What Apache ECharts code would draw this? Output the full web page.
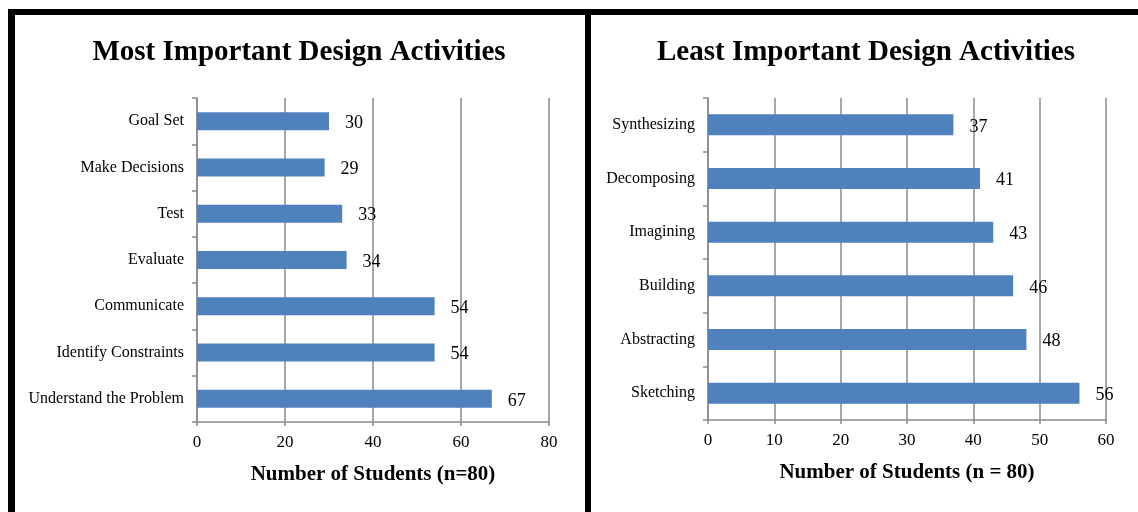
<!DOCTYPE html>
<html>
<head>
<meta charset="utf-8">
<script src="https://cdn.jsdelivr.net/npm/echarts@6/dist/echarts.min.js"></script>
<style>
html,body{margin:0;padding:0;background:#fff;}
#chart{width:1138px;height:512px;}
</style>
</head>
<body>
<div id="chart"></div>
<script>
// Data
const leftTitle = 'Most Important Design Activities';
const rightTitle = 'Least Important Design Activities';
const leftCategories = ['Understand the Problem', 'Identify Constraints', 'Communicate', 'Evaluate', 'Test', 'Make Decisions', 'Goal Set'];
const leftValues = [67, 54, 54, 34, 33, 29, 30];
const rightCategories = ['Sketching', 'Abstracting', 'Building', 'Imagining', 'Decomposing', 'Synthesizing'];
const rightValues = [56, 48, 46, 43, 41, 37];
const leftAxisName = 'Number of Students (n=80)';
const rightAxisName = 'Number of Students (n = 80)';

const FONT = '"Liberation Serif", "Times New Roman", serif';
const GRAY = '#8a8a8a';
const BAR = '#4F81BD';

function xAxisCfg(gridIndex, max, interval, name) {
  return {
    type: 'value', gridIndex: gridIndex, min: 0, max: max, interval: interval,
    name: name, nameLocation: 'middle', nameGap: 42,
    nameTextStyle: {fontFamily: FONT, fontWeight: 'bold', fontSize: 21, color: '#000'},
    axisLine: {show: true, lineStyle: {color: GRAY, width: 1.5}},
    axisTick: {show: true, length: 4, lineStyle: {color: GRAY, width: 1.5}},
    axisLabel: {fontFamily: FONT, fontSize: 17, color: '#000', margin: 12},
    splitLine: {show: true, lineStyle: {color: GRAY, width: 1.5}}
  };
}
function yAxisCfg(gridIndex, cats) {
  return {
    type: 'category', gridIndex: gridIndex, data: cats,
    axisLine: {show: true, lineStyle: {color: GRAY, width: 1.5}},
    axisTick: {show: true, length: 5, lineStyle: {color: GRAY, width: 1.5}},
    axisLabel: {fontFamily: FONT, fontSize: 16, color: '#000', margin: 13, padding: [3, 0, 0, 0]},
    splitLine: {show: false}
  };
}
function seriesCfg(idx, vals, w) {
  return {
    type: 'bar', xAxisIndex: idx, yAxisIndex: idx, data: vals, barWidth: w,
    itemStyle: {color: BAR},
    label: {show: true, position: 'right', distance: 16, offset: [0, 2], fontFamily: FONT, fontSize: 18, color: '#000'},
    silent: true, animation: false
  };
}

const chart = echarts.init(document.getElementById('chart'), null, {renderer: 'canvas'});
chart.setOption({
  animation: false,
  backgroundColor: '#fff',
  grid: [
    {left: 197, top: 98, width: 352, height: 324, containLabel: false},
    {left: 708, top: 98, width: 398, height: 322, containLabel: false}
  ],
  xAxis: [xAxisCfg(0, 80, 20, leftAxisName), xAxisCfg(1, 60, 10, rightAxisName)],
  yAxis: [yAxisCfg(0, leftCategories), yAxisCfg(1, rightCategories)],
  series: [seriesCfg(0, leftValues, 18), seriesCfg(1, rightValues, 21)],
  graphic: [
    {type: 'rect', shape: {x: 8, y: 9, width: 1130, height: 6}, style: {fill: '#000'}, silent: true},
    {type: 'rect', shape: {x: 8, y: 9, width: 7, height: 503}, style: {fill: '#000'}, silent: true},
    {type: 'rect', shape: {x: 585, y: 9, width: 6, height: 503}, style: {fill: '#000'}, silent: true},
    {type: 'text', x: 299, y: 53, style: {text: leftTitle, font: 'bold 29px ' + FONT, fill: '#000', textAlign: 'center', textVerticalAlign: 'middle'}, silent: true},
    {type: 'text', x: 866, y: 53, style: {text: rightTitle, font: 'bold 29px ' + FONT, fill: '#000', textAlign: 'center', textVerticalAlign: 'middle'}, silent: true}
  ]
});
</script>
</body>
</html>
